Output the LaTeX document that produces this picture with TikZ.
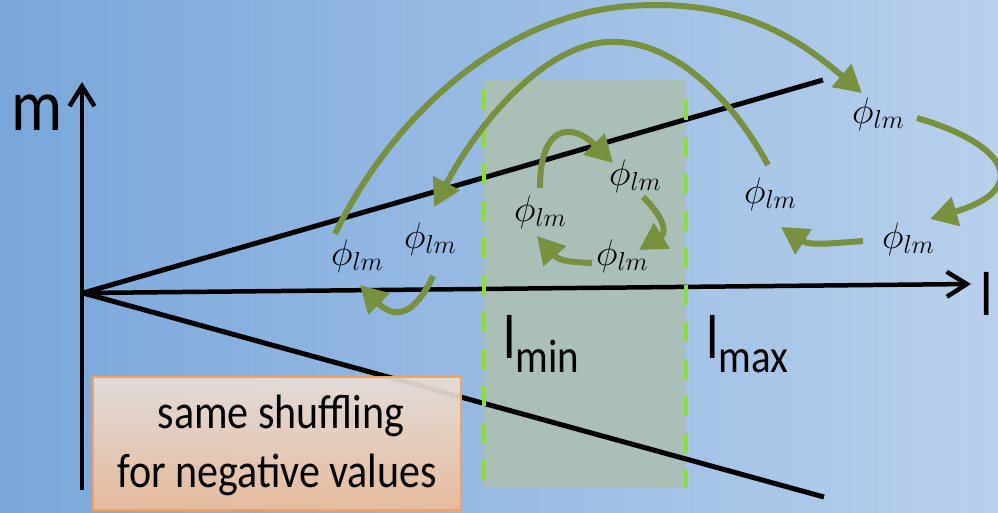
\RequirePackage{fix-cm}
\documentclass[tikz,border=0pt]{standalone}
\usepackage{fontspec}
\setmainfont{Carlito}
\usetikzlibrary{arrows.meta}
\definecolor{bgL}{RGB}{122,167,219}
\definecolor{bgR}{RGB}{184,208,236}
\definecolor{rectc}{RGB}{170,191,184}
\definecolor{dashc}{RGB}{140,224,45}
\definecolor{olive}{RGB}{119,145,62}
\definecolor{boxtop}{RGB}{232,222,216}
\definecolor{boxbot}{RGB}{238,188,152}
\definecolor{boxdraw}{RGB}{246,160,90}
\tikzset{
  axisline/.style={line width=4.5pt, -{Straight Barb[length=20pt,width=25pt]}},
  conerim/.style={line width=5pt},
  shuffle/.style={olive, line width=6pt, -{Triangle[length=27pt,width=29pt]}},
  philabel/.style={anchor=base west, inner sep=0pt, font=\fontsize{37}{40}\selectfont},
  lbound/.style={dashc, line width=4pt, dash pattern=on 20pt off 17pt},
  axlabel/.style={anchor=base west, inner sep=0pt}
}
\newcommand{\stretchy}[1]{\scalebox{1}[1.15]{#1}}
\begin{document}
\begin{tikzpicture}[x=1pt,y=-1pt]
\useasboundingbox (0,0) rectangle (998,512);
\shade[left color=bgL, right color=bgR] (0,0) rectangle (998,512);
% l range band
\fill[rectc] (484,80) rectangle (686,488);
% axes and cone
\coordinate (O) at (83,293);
\coordinate (vbot) at (82,490);
\coordinate (vtop) at (82,82);
\coordinate (htip) at (971,284);
\coordinate (up) at (823,80);
\coordinate (dn) at (824,497);
\draw[conerim] (O) -- (up);
\draw[conerim] (O) -- (dn);
\draw[axisline] (vbot) -- (vtop);
\draw[axisline] (O) -- (htip);
% dashed bounds
\draw[lbound] (484,90) -- (484,488);
\draw[lbound] (686,100) -- (686,488);
% axis labels
\node[axlabel] (mlab) at (11,130) {\stretchy{\fontsize{64}{64}\selectfont m}};
\node[axlabel] (llab) at (980,315) {\stretchy{\fontsize{54}{54}\selectfont l}};
\node[axlabel] (lmin) at (503,358) {\stretchy{\fontsize{54}{54}\selectfont l\raisebox{-13pt}{\fontsize{41}{41}\selectfont min}}};
\node[axlabel] (lmax) at (706,358) {\stretchy{\fontsize{54}{54}\selectfont l\raisebox{-13pt}{\fontsize{41}{41}\selectfont max}}};
% box
\node[draw=boxdraw, line width=1.5pt, top color=boxtop, bottom color=boxbot, fill opacity=0.93,
      minimum width=368pt, minimum height=133pt, inner sep=0pt] (negbox) at (277,443.5) {};
\node[anchor=base, inner sep=0pt] (neg1) at (281,428) {\stretchy{\fontsize{42}{42}\selectfont same shuffling}};
\node[anchor=base, inner sep=0pt] (neg2) at (277,487) {\stretchy{\fontsize{42}{42}\selectfont for negative values}};
% phi labels
\node[philabel] (p1) at (331,265) {$\phi_{lm}$};
\node[philabel] (p2) at (404,248) {$\phi_{lm}$};
\node[philabel] (p3) at (514,221) {$\phi_{lm}$};
\node[philabel] (p4) at (609,185) {$\phi_{lm}$};
\node[philabel] (p5) at (596,265) {$\phi_{lm}$};
\node[philabel] (p6) at (744,203) {$\phi_{lm}$};
\node[philabel] (p7) at (852,123) {$\phi_{lm}$};
\node[philabel] (p8) at (882,248) {$\phi_{lm}$};
% connector endpoints
\coordinate (a1) at (335,234); \coordinate (a2) at (862,93);
\coordinate (b1) at (768,165); \coordinate (b2) at (434,207);
\coordinate (c1) at (917,118); \coordinate (c2) at (930,219);
\coordinate (d1) at (863,241); \coordinate (d2) at (781,227);
\coordinate (e1) at (540,188); \coordinate (e2) at (613,163);
\coordinate (f1) at (643,197); \coordinate (f2) at (639,250);
\coordinate (g1) at (592,263); \coordinate (g2) at (537,236);
\coordinate (h1) at (433,276); \coordinate (h2) at (360,285);
% shuffling arrows
\draw[shuffle] (a1) .. controls (390,120) and (500,15) .. (630,6) .. controls (740,-2) and (800,40) .. (a2);
\draw[shuffle] (b1) .. controls (730,95) and (670,38) .. (607,42) .. controls (545,46) and (480,120) .. (b2);
\draw[shuffle] (c1) .. controls (1010,145) and (1030,190) .. (c2);
\draw[shuffle] (d1) .. controls (835,243) and (810,246) .. (d2);
\draw[shuffle] (e1) .. controls (540,120) and (575,125) .. (e2);
\draw[shuffle] (f1) .. controls (662,215) and (668,232) .. (f2);
\draw[shuffle] (g1) .. controls (575,262) and (560,262) .. (g2);
\draw[shuffle] (h1) .. controls (415,315) and (395,320) .. (h2);
\end{tikzpicture}
\end{document}
